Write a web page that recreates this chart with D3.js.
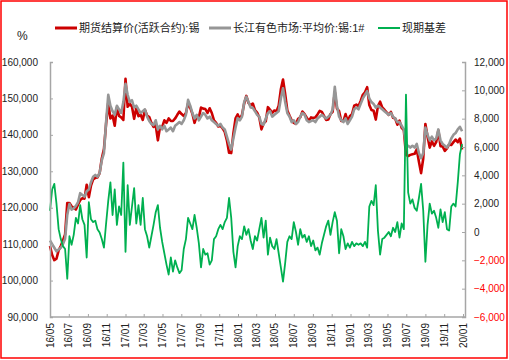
<!DOCTYPE html>
<html><head><meta charset="utf-8">
<script src="https://cdn.jsdelivr.net/npm/d3@7/dist/d3.min.js"></script>
<style>
html,body{margin:0;padding:0;background:#fff;}
svg{display:block;}
text{font-family:"Liberation Sans","Noto Sans CJK SC",Arial,sans-serif;}
</style></head>
<body><svg id="c" width="509" height="360"></svg>
<script>
// ---- data (weekly observations from 2016-05-01) ----
const startDate = "2016-05-01";
const spot = [111,110,109,108,108.5,109,110,111.5,118,121,
119.5,119.8,120.5,121.5,124,123.5,123,124.5,125,127,
128.5,129,128.5,129.5,133,135,143.6,151,148,146.5,
145.5,148,147,146,149,154,151,149,149.5,147.5,
148,147,146,146.5,147,145,143.8,143,142.7,144,
141.5,142.5,141.5,142.5,141,141.5,142,141,142.5,143,
143.5,143,144,145.5,149.6,148,146,144.5,145.5,144,
145,146,145.5,144.5,145,144,143.5,143,142.5,143,
142,141.5,139.5,137.5,136,139,142,144.6,144,145,
149,150.5,149,147.5,147.4,146.5,145.5,145,143,142.8,
144.5,146,146.5,145,145.5,146,146.5,150,152.8,149,
146,145,143.5,144,143,143.5,145,146,145.5,144,
143.5,143.8,144,143.5,144.5,145,145.5,145,144.5,145,
145.5,147,153.2,148,145,144,143.5,144.5,143,144,
145,147,147.5,147,148.5,150,151,152,150,149,
148.5,147.5,148,147.5,147,146.5,146,145.5,146,145,
144.5,143.5,143.5,142.5,141.5,137,137,136.5,137,136.5,
137.5,135,133.6,135,142,140,138.5,139.5,138.5,139,
141.5,138.5,137.5,137,136.5,137.5,139,140,140.5,141.5,
142.2,141]; // 长江有色市场:平均价:锡:1#, thousand yuan
const futures = [109.5,107,105.6,106,108.3,109.5,111,112.7,121.3,121.3,
120.4,120,119.5,120.9,122.1,122.6,122.5,126.3,122.9,126.1,
127.8,128.2,128.3,129.5,133.5,136.1,143,148.8,144.5,145.3,
142.5,147.5,145.2,144.8,144.1,155.4,147.7,148.5,147.7,144.4,
147.4,145.1,145.5,144.1,146.8,145.3,144.9,143.3,142.2,142.6,
138.5,142.2,142.2,144,143.3,144.5,143.8,143.8,144.5,145.5,
146.4,145.7,145.2,146,148.6,147.4,145.8,143.3,145.2,144.8,
147.5,147.2,147.1,146,147.3,146,144,143.3,142.3,142.5,
141.8,140.8,138.5,135.1,135,140.4,144.5,145.6,144.3,145.5,
148.6,150.7,148.8,148.1,148.6,146.8,146.1,144.8,141.5,143.2,
143.7,147.6,146.9,146,146.7,146.5,148,152.5,155.2,151.2,
146.7,145.3,144,143.3,143,144.4,144.8,146.4,145.7,144.7,
143.8,144.8,144.6,144.8,145.6,146.6,146.3,145.2,144.1,144.2,
145.7,146.3,151.8,147.2,146.5,143.8,143.8,145.7,143.8,145.1,
145.7,148,148.3,147.9,149.3,151,151.7,153.1,148.2,146.8,
146.6,144.2,147.9,149.1,147.5,146.9,146.2,145.5,146.3,144.7,
144.5,142.8,143.9,141.9,141.3,134.5,134.2,134.5,134.7,134.8,
136,132.6,129.5,133.5,143,139.5,136.5,138.2,137,138,
141.2,136.9,136.8,135.6,136.3,137.4,137.2,138,138.7,138,
139,136]; // 期货结算价(活跃合约):锡, thousand yuan
const basis = [1500,3000,3400,2000,200,-500,-1000,-1200,-3300,-300,
-900,-200,1000,600,1900,900,500,-1800,2100,900,
700,800,200,-30,-500,-1100,600,2200,3500,1200,
3000,500,1800,1200,4900,-1400,3300,500,1800,3100,
600,1900,500,2400,200,-300,-1100,-300,500,1400,
1900,300,-700,-1500,-2300,-3000,-1800,-2800,-2000,-2500,
-2900,-2700,-1200,-500,1000,600,200,1200,300,-800,
-2500,-1200,-1600,-1500,-2300,-2000,-500,-300,200,500,
200,700,1000,2400,1000,-1400,-2500,-1000,-300,-500,
400,-200,200,-600,-1200,-300,-600,200,1000,-400,
800,-1600,-400,-1000,-1200,-500,-1500,-2500,-3500,-2200,
-700,-300,-500,700,0,-900,200,-400,-200,-700,
-300,-1000,-600,-1300,-1100,-1600,-800,-200,400,800,
-200,700,1400,800,-1500,200,-300,-1200,-800,-1100,
-700,-1000,-800,-900,-800,-1000,-700,-1100,1800,2200,
1900,3300,100,-1600,-500,-400,-200,0,-300,300,
0,700,-400,600,200,9700,2800,2000,2300,1700,
1500,2400,3400,1500,-2100,500,2000,1300,1500,1000,
300,1600,700,1400,200,100,1800,2000,1800,3500,
5500,6200]; // 现期基差
const leftTicks = [90000,100000,110000,120000,130000,140000,150000,160000];
const rightTicks = [-6000,-4000,-2000,0,2000,4000,6000,8000,10000,12000];
const legendNames = ["期货结算价(活跃合约):锡","长江有色市场:平均价:锡:1#","现期基差"];
const colors = ["#cc0000","#969696","#00b050"];

// ---- drawing ----
const svg = d3.select("#c");
const parse = d3.timeParse("%Y-%m-%d");
const t0 = parse(startDate);
const dates = spot.map((_, i) => d3.timeDay.offset(t0, 7 * i));

const x = d3.scaleTime().domain([parse("2016-05-01"), parse("2020-01-01")]).range([50, 463]);
const yL = d3.scaleLinear().domain([90000, 160000]).range([317, 62]);
const yR = d3.scaleLinear().domain([-6000, 12000]).range([317, 62]);

// outer border
svg.append("rect").attr("x", 1).attr("y", 1).attr("width", 506).attr("height", 357)
  .attr("fill", "none").attr("stroke", "#ff0000").attr("stroke-width", 1.5);

// lines
const lineL = d3.line().x((d, i) => x(dates[i])).y(d => yL(d * 1000));
const lineR = d3.line().x((d, i) => x(dates[i])).y(d => yR(d));
svg.append("path").datum(futures).attr("d", lineL).attr("fill", "none")
  .attr("stroke", colors[0]).attr("stroke-width", 2.6).attr("stroke-linejoin", "round");
svg.append("path").datum(spot).attr("d", lineL).attr("fill", "none")
  .attr("stroke", colors[1]).attr("stroke-width", 2.6).attr("stroke-linejoin", "round");
svg.append("path").datum(basis).attr("d", lineR).attr("fill", "none")
  .attr("stroke", colors[2]).attr("stroke-width", 1.8).attr("stroke-linejoin", "round");

const axisColor = "#a6a6a6";
const fmt = d3.format(",");

// left axis
const gL = svg.append("g").attr("transform", "translate(50,0)")
  .call(d3.axisRight(yL).tickValues(leftTicks).tickSize(3).tickFormat(""));
gL.select(".domain").attr("stroke", axisColor).attr("stroke-width", 1.5);
gL.selectAll(".tick line").attr("stroke", axisColor);
svg.append("g").selectAll("text").data(leftTicks).join("text")
  .attr("x", 38).attr("y", d => yL(d) + 3.5).attr("text-anchor", "end")
  .attr("font-size", 10).attr("fill", "#222").text(d => fmt(d));

// right axis
const gR = svg.append("g").attr("transform", "translate(465,0)")
  .call(d3.axisLeft(yR).tickValues(rightTicks).tickSize(3).tickFormat(""));
gR.select(".domain").attr("stroke", axisColor).attr("stroke-width", 1.5);
gR.selectAll(".tick line").attr("stroke", axisColor);
svg.append("g").selectAll("text").data(rightTicks).join("text")
  .attr("x", 474).attr("y", d => yR(d) + 3.5).attr("text-anchor", "start")
  .attr("font-size", 10).attr("fill", d => d < 0 ? "#ff0000" : "#222").text(d => fmt(d));

// bottom axis
const xTicks = d3.timeMonth.every(2).range(parse("2016-05-01"), parse("2020-01-02"));
const gX = svg.append("g").attr("transform", "translate(0,317)")
  .call(d3.axisTop(x).tickValues(xTicks).tickSize(3).tickFormat(""));
gX.select(".domain").attr("d", "M50,0H465").attr("stroke", axisColor).attr("stroke-width", 1.5);
gX.selectAll(".tick line").attr("stroke", axisColor);
const xf = d3.timeFormat("%y/%m");
svg.append("g").selectAll("text").data(xTicks).join("text")
  .attr("transform", d => `translate(${x(d) + 3.5},323) rotate(-90)`)
  .attr("text-anchor", "end").attr("font-size", 10).attr("fill", "#222")
  .text(d => xf(d));

// unit label
svg.append("text").attr("x", 17).attr("y", 40).attr("font-size", 12).attr("fill", "#222").text("%");

// legend
const legX = [55, 209, 378];
const leg = svg.append("g");
legendNames.forEach((n, i) => {
  leg.append("line").attr("x1", legX[i]).attr("x2", legX[i] + 22).attr("y1", 28).attr("y2", 28)
    .attr("stroke", colors[i]).attr("stroke-width", i === 2 ? 2 : 3);
  leg.append("text").attr("x", legX[i] + 24).attr("y", 32).attr("font-size", 11)
    .attr("fill", "#222").text(n);
});
</script></body></html>
